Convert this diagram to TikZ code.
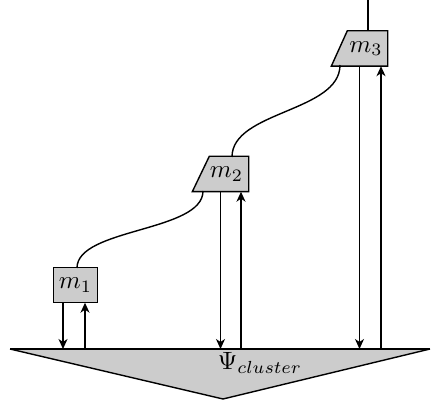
\documentclass[tikz,border=0pt]{standalone}
\usetikzlibrary{arrows.meta}
\begin{document}
\begin{tikzpicture}[x=1pt,y=-1pt,
  line width=1.4pt,
  arr/.style={-{Stealth[length=10pt,width=9pt,inset=3pt]}},
  mbox/.style={inner sep=0pt},
  mshape/.style={draw,fill=black!20}]
\newcommand{\bigtxt}[1]{\scalebox{2.5}{#1}}
\useasboundingbox (0,0) rectangle (431,403);
% cluster triangle
\coordinate (tl) at (10,349);
\coordinate (tr) at (430,349);
\coordinate (ap) at (223,399);
\path[fill=black!20] (tl) -- (tr) -- (ap) -- cycle;
\draw (tr) -- (ap) -- (tl);
\draw (tl) -- (tr);
\node (psi) at (260,363) {\bigtxt{$\Psi_{cluster}$}};
% modules
\node[mbox,minimum width=43pt,minimum height=34pt] (m1) at (75.5,285) {};
\draw[mshape] (m1.south west) rectangle (m1.north east);
\node at (m1) {\bigtxt{$m_1$}};
\node[mbox,minimum width=55pt,minimum height=34pt] (m2) at (220.5,174) {};
\draw[mshape] (m2.south west) -- ([xshift=17pt]m2.north west) -- (m2.north east) -- (m2.south east) -- cycle;
\node at ([xshift=6pt]m2) {\bigtxt{$m_2$}};
\node[mbox,minimum width=55pt,minimum height=34pt] (m3) at (359.5,48.5) {};
\draw[mshape] (m3.south west) -- ([xshift=16pt]m3.north west) -- (m3.north east) -- (m3.south east) -- cycle;
\node at ([xshift=6.5pt]m3) {\bigtxt{$m_3$}};
% top line
\coordinate (top) at (368,0);
\draw (top) -- (top |- m3.north);
% curves
\draw (77,268) .. controls (77,228) and (203,232) .. (203,191);
\draw (232,157) .. controls (232,111) and (340,112) .. (340,65);
% arrows
\draw[arr] ([xshift=-12.5pt]m1.south) -- ([xshift=-12.5pt]m1.south |- tl);
\draw[arr] ([xshift=9.5pt]m1.south |- tl) -- ([xshift=9.5pt]m1.south);
\draw[arr] (m2.south) -- (m2.south |- tl);
\draw[arr] ([xshift=20.5pt]m2.south |- tl) -- ([xshift=20.5pt]m2.south);
\draw[arr] (m3.south) -- (m3.south |- tl);
\draw[arr] ([xshift=21.5pt]m3.south |- tl) -- ([xshift=21.5pt]m3.south);
\end{tikzpicture}
\end{document}
